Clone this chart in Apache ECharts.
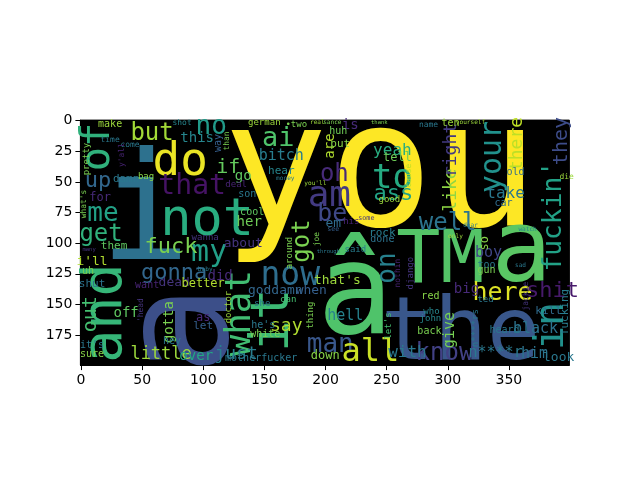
<!DOCTYPE html>
<html>
<head>
<meta charset="utf-8">
<script src="https://cdn.jsdelivr.net/npm/echarts@6/dist/echarts.min.js"></script>
<style>
  html, body { margin: 0; background: #fff; }
  #chart { width: 640px; height: 480px; }
</style>
</head>
<body>
<div id="chart"></div>
<script>
// word cloud data: word, position in image pixels (400 x 200), font size in image pixels,
// orientation (1 = vertical, read bottom to top) and viridis shade 0..1
const words = ['you','i','â','TM','a','the','a','not','and','of','do','that','it','what',"fuckin'",'in','your','am','to','ass',
  'my','now','man','all','here','shit','know','well','ai','but','no','oh','be','got','on','fuck','gonna','me','get','up',
  'if','say','little','just','with','yeah','tell','take','like','right','there','they','this','bitch','hell','black','him','look','give','boy',
  'big','n****r','is','are','put','huh','german','•two','hear','go','deal','son','cool','her','about','em','his','rock','done','said',
  'around','joe','good',"'cause",'name','ten','old','car','die',"that's",'goddamn','when','she','can','thing',"he's",'white','motherfucker','down',"let's",
  'nothin','django','red','who','john','back','ted','n****rs','heard','jackie','kill','fucking','so','too','gun','make','time','come','pretty',"y'all",
  'shot','way','than','damn','bag','for',"what's",'them',"i'll",'uh','shut','out',"it's",'sure','wanna','did','dead','better','want','off',
  'gotta','hey','as','let','doctor',"'head",'over','money',"you'll",'some','see','through','yourself','real','sance','thank','baby','many','sad','only',
  'watch','dear'];
const wordX = [245.0,52.4,224.4,294.0,360.4,310.4,87.6,103.2,21.3,14.7,81.1,90.9,158.0,130.2,387.4,385.7,337.4,203.1,254.7,255.5,
  104.8,171.2,203.9,236.7,344.8,385.7,297.3,299.9,161.3,58.1,106.5,207.2,205.6,181.8,251.4,73.7,76.2,18.0,16.4,13.9,
  120.4,167.9,65.5,126.9,267.0,254.7,258.8,347.3,303.0,303.0,357.1,393.1,95.0,163.8,216.2,371.8,371.0,390.7,302.2,333.3,
  315.3,339.1,220.3,203.9,212.1,210.5,149.9,176.1,163.8,132.7,126.9,136.0,140.0,137.6,132.7,206.4,221.1,246.5,246.5,224.4,
  170.4,193.3,252.2,268.6,284.2,302.2,355.4,345.6,397.2,209.7,158.9,188.4,148.2,169.5,187.6,149.1,150.7,147.4,199.8,251.4,
  259.6,269.5,285.8,286.7,285.8,285.0,330.9,322.7,346.4,363.6,382.5,396.4,330.1,331.7,331.7,23.8,23.8,40.1,4.9,33.6,
  82.7,112.2,119.6,36.9,53.2,15.6,2.5,27.0,9.0,5.7,9.0,8.2,9.0,9.0,101.6,113.8,76.2,99.9,54.1,36.9,
  72.1,74.5,99.9,99.9,120.4,49.1,94.2,167.1,191.7,233.4,206.4,202.3,318.6,193.3,205.6,244.0,101.6,6.6,359.5,306.3,
  365.3,318.6];
const wordY = [48.5,81.1,146.5,116.5,109.7,175.8,170.9,82.1,157.1,21.5,34.5,54.1,162.7,157.1,78.0,167.6,29.6,62.3,47.6,59.9,
  108.0,126.9,183.1,189.7,140.7,139.1,190.5,84.4,15.0,10.9,5.1,44.3,76.2,98.2,120.3,103.1,124.4,76.2,93.3,49.2,
  38.6,167.6,191.3,190.5,189.7,24.7,30.5,59.9,56.6,23.9,19.0,16.6,14.1,28.8,159.5,170.1,190.5,193.0,170.9,108.0,
  137.4,189.7,3.5,20.7,19.0,8.4,1.5,3.5,41.1,45.2,52.5,59.9,74.6,82.7,100.7,84.4,82.7,91.7,96.6,105.6,
  108.0,96.6,64.7,46.8,3.5,2.5,41.9,67.2,46.0,130.9,139.1,139.1,149.7,146.4,158.7,166.8,174.2,193.8,192.1,167.6,
  124.4,124.4,143.2,156.2,161.2,171.8,146.4,169.3,170.9,143.2,155.4,156.2,100.1,117.9,122.0,2.7,15.8,19.8,31.3,28.0,
  1.5,18.2,16.6,47.6,46.0,63.1,68.0,102.3,115.4,122.7,133.4,157.9,183.1,190.5,95.8,126.9,132.5,133.4,134.2,157.1,
  164.4,179.9,161.2,167.6,152.1,154.6,192.1,46.8,50.8,79.5,88.4,107.2,1.5,1.5,1.5,1.5,121.1,105.6,117.9,94.2,
  88.4,85.2];
const wordSize = [143,123,104,60,82,72,123,42.5,45,33,37.6,23,43,29.4,21.5,32.7,24.5,29.4,27.8,18,
  24.5,27,21.3,26.2,20.4,18,19.6,19.6,22,19.6,21.3,19.6,20.4,19.6,21.3,18,18,21.3,19.6,18,
  16.4,14.7,13.9,14.7,13.1,13.1,9.8,13.1,14.7,14.7,14.7,16.4,11.5,12.3,12.3,12.3,12.3,10.6,12.3,12.3,
  11.5,12.3,11.5,11.5,9,8.2,7.4,7.4,9,11.5,7.4,8.2,8.2,11.5,10.6,10.6,7.4,9,8.2,7.4,
  7.4,6.5,7.4,6.5,6.5,8.2,8.2,8.2,6.5,10.6,10.6,10.6,7.4,7.4,7.4,8.2,8.2,8.2,9.8,7.4,
  6.5,7.4,8.2,7.4,7.4,8.2,7.4,7.4,8.2,6.5,9,9,9.8,8.2,8.2,8.2,6.5,6.5,7.4,6.5,
  6.5,8.2,6.5,9,7.4,9.8,6.5,9,10.6,8.2,9,16.4,8.2,8.2,7.4,11.5,10.6,9.8,8.2,11.5,
  11.5,8.2,9.8,9,7.4,6.5,11.5,5,5,5.5,5.5,4.5,5,5,5,4.5,5,4.5,5,5,
  5,5];
const wordVertical = [0,0,0,0,0,0,1,0,1,1,0,0,1,1,1,1,1,0,0,0,
  0,0,0,0,0,0,0,0,0,0,0,0,0,1,1,0,0,0,0,0,
  0,0,0,0,0,0,0,0,1,1,1,1,0,0,0,0,0,0,1,0,
  0,0,0,1,0,0,0,0,0,0,0,0,0,0,0,0,0,0,0,0,
  1,1,0,1,0,0,0,0,0,0,0,0,0,0,1,0,0,0,0,1,
  1,1,0,0,0,0,0,1,0,1,0,1,1,0,0,0,0,0,1,1,
  0,1,1,0,0,0,1,0,0,0,0,1,0,0,0,0,0,0,0,0,
  1,0,0,0,1,1,0,0,0,0,0,0,0,0,0,0,0,0,0,0,
  0,0];
const wordShade = [1.0,0.37,0.72,0.73,0.74,0.27,0.24,0.62,0.66,0.64,0.97,0.05,0.68,0.69,0.57,0.5,0.5,0.17,0.61,0.58,
  0.56,0.36,0.27,0.92,0.95,0.07,0.19,0.38,0.72,0.86,0.54,0.12,0.22,0.8,0.43,0.8,0.33,0.57,0.64,0.33,
  0.76,0.88,0.85,0.42,0.4,0.62,0.78,0.4,0.83,0.17,0.9,0.23,0.45,0.42,0.44,0.38,0.38,0.4,0.79,0.21,
  0.12,0.4,0.12,0.88,0.82,0.78,0.85,0.8,0.45,0.75,0.1,0.4,0.75,0.78,0.15,0.35,0.1,0.42,0.38,0.42,
  0.8,0.8,0.85,0.9,0.4,0.85,0.35,0.35,0.85,0.85,0.33,0.3,0.4,0.7,0.8,0.4,0.8,0.4,0.82,0.7,
  0.1,0.15,0.82,0.45,0.45,0.8,0.4,0.4,0.4,0.15,0.35,0.42,0.82,0.4,0.8,0.85,0.4,0.4,0.8,0.1,
  0.45,0.3,0.8,0.4,0.82,0.12,0.8,0.75,0.88,0.8,0.38,0.7,0.4,0.82,0.15,0.12,0.15,0.88,0.1,0.75,
  0.8,0.4,0.12,0.3,0.85,0.15,0.6,0.4,0.85,0.15,0.3,0.4,0.85,0.85,0.8,0.8,0.4,0.15,0.4,0.85,
  0.45,0.4];
const xTicks = [0, 50, 100, 150, 200, 250, 300, 350];
const yTicks = [0, 25, 50, 75, 100, 125, 150, 175];

// viridis colormap stops
const viridis = ['#440154','#482475','#414487','#355f8d','#2a788e','#21918c','#22a884','#44bf70','#7ad151','#bddf26','#fde725'];
function viridisColor(t) {
  const p = Math.max(0, Math.min(1, t)) * 10;
  const i = Math.min(9, Math.floor(p));
  const f = p - i;
  const a = echarts.color.parse(viridis[i]);
  const b = echarts.color.parse(viridis[i + 1]);
  const c = [0, 1, 2].map(j => Math.round(a[j] + (b[j] - a[j]) * f));
  return 'rgb(' + c.join(',') + ')';
}

const chart = echarts.init(document.getElementById('chart'));

const axisText = { color: '#000', fontSize: 14, fontFamily: 'DejaVu Sans' };
chart.setOption({
  animation: false,
  backgroundColor: '#fff',
  grid: {
    left: 80.4, top: 120.1, width: 489, height: 245,
    show: true, backgroundColor: '#000', borderColor: '#000', borderWidth: 1
  },
  xAxis: {
    type: 'value', min: -0.5, max: 399.5, position: 'bottom',
    axisLine: { show: true, onZero: false, lineStyle: { color: '#000', width: 1 } },
    axisTick: { show: true, length: 5, customValues: xTicks, lineStyle: { color: '#000' } },
    axisLabel: Object.assign({ customValues: xTicks, margin: 8 }, axisText),
    splitLine: { show: false }
  },
  yAxis: {
    type: 'value', min: -0.5, max: 199.5, inverse: true, position: 'left',
    axisLine: { show: true, onZero: false, lineStyle: { color: '#000', width: 1 } },
    axisTick: { show: true, length: 5, customValues: yTicks, lineStyle: { color: '#000' } },
    axisLabel: Object.assign({ customValues: yTicks, margin: 8 }, axisText),
    splitLine: { show: false }
  }
});

// image pixel -> screen pixel factor, taken from the axis scale
const k = (chart.convertToPixel({ xAxisIndex: 0 }, 100) - chart.convertToPixel({ xAxisIndex: 0 }, 0)) / 100;

chart.setOption({
  series: [{
    type: 'scatter',
    silent: true,
    symbolSize: 0,
    itemStyle: { color: 'rgba(0,0,0,0)', opacity: 1 },
    label: {
      show: true, position: 'inside', formatter: '{b}',
      fontFamily: 'DejaVu Sans Mono', align: 'center', verticalAlign: 'middle'
    },
    labelLayout: { hideOverlap: false },
    data: words.map((w, i) => ({
      name: w,
      value: [wordX[i], wordY[i]],
      label: {
        fontSize: wordSize[i] * k,
        rotate: wordVertical[i] ? 90 : 0,
        color: viridisColor(wordShade[i])
      }
    }))
  }]
});
</script>
</body>
</html>
